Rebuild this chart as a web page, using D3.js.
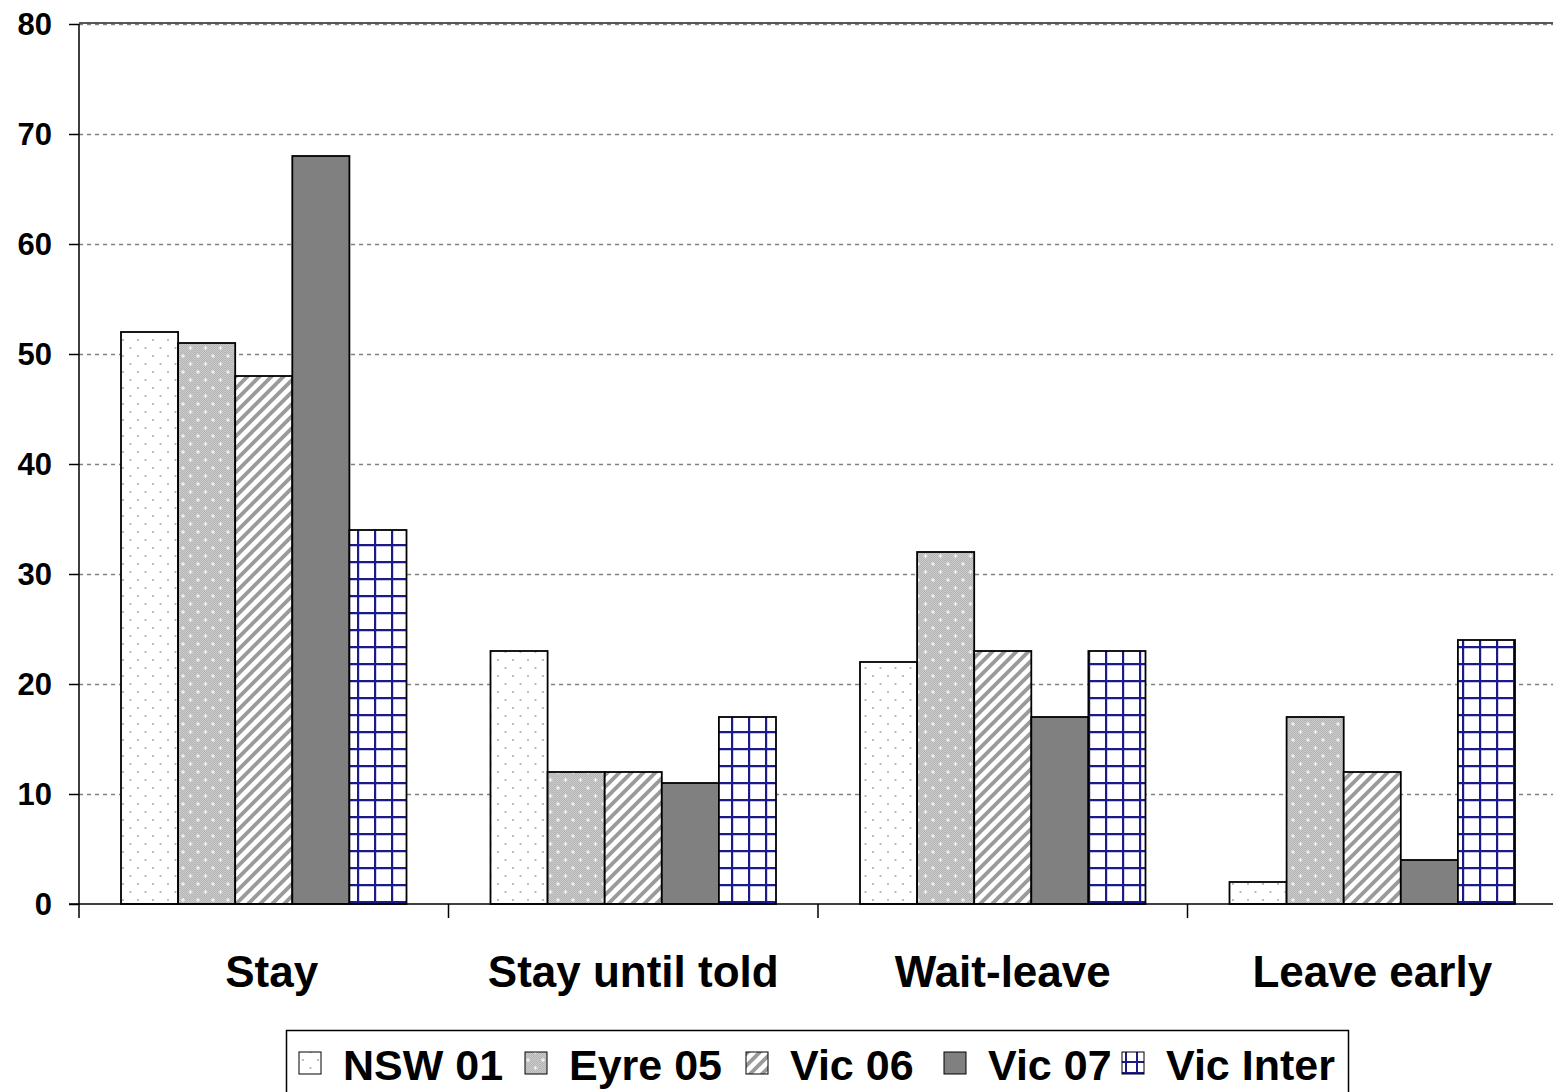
<!DOCTYPE html>
<html><head><meta charset="utf-8">
<script src="https://cdn.jsdelivr.net/npm/d3@7"></script>
<style>body{margin:0;background:#fff;}svg{display:block;}</style>
</head><body>
<script>
const categories = ["Stay", "Stay until told", "Wait-leave", "Leave early"];
const seriesNames = ["NSW 01", "Eyre 05", "Vic 06", "Vic 07", "Vic Inter"];
const nsw01 = [52, 23, 22, 2];
const eyre05 = [51, 12, 32, 17];
const vic06 = [48, 12, 23, 12];
const vic07 = [68, 11, 17, 4];
const vicInter = [34, 17, 23, 24];
const yTicks = [0, 10, 20, 30, 40, 50, 60, 70, 80];
const seriesValues = [nsw01, eyre05, vic06, vic07, vicInter];

const W = 1553, H = 1092;
const FONT = "Liberation Sans, Arial, sans-serif";
const svg = d3.select("body").append("svg").attr("width", W).attr("height", H);
const defs = svg.append("defs");

// Patterns
let p = defs.append("pattern").attr("id","p0").attr("patternUnits","userSpaceOnUse").attr("width",15).attr("height",16);
p.append("rect").attr("width",15).attr("height",16).attr("fill","#fff");
p.append("circle").attr("cx",3).attr("cy",4).attr("r",1.1).attr("fill","#b0b0b0");
p.append("circle").attr("cx",10.5).attr("cy",12).attr("r",1.1).attr("fill","#b0b0b0");

p = defs.append("pattern").attr("id","p1").attr("patternUnits","userSpaceOnUse").attr("width",15).attr("height",16);
p.append("rect").attr("width",15).attr("height",16).attr("fill","#cbcbcb");
for (let i=0;i<15;i++) for (let j=0;j<16;j++) if ((i+j)%2===0) p.append("rect").attr("x",i).attr("y",j).attr("width",1).attr("height",1).attr("fill","#b4b4b4");
[[3,4],[10.5,12]].forEach(([cx,cy])=>{
  p.append("rect").attr("x",cx-2).attr("y",cy-0.6).attr("width",4).attr("height",1.2).attr("fill","#f4f4f4");
  p.append("rect").attr("x",cx-0.6).attr("y",cy-2).attr("width",1.2).attr("height",4).attr("fill","#f4f4f4");
});

p = defs.append("pattern").attr("id","p2").attr("patternUnits","userSpaceOnUse").attr("width",12).attr("height",12);
p.append("rect").attr("width",12).attr("height",12).attr("fill","#fff");
p.append("path").attr("d","M-3,3 L3,-3 M0,12 L12,0 M9,15 L15,9").attr("stroke","#9a9a9a").attr("stroke-width",3.8);

defs.append("pattern").attr("id","p3").attr("patternUnits","userSpaceOnUse").attr("width",4).attr("height",4)
  .append("rect").attr("width",4).attr("height",4).attr("fill","#808080");

p = defs.append("pattern").attr("id","p4").attr("patternUnits","userSpaceOnUse").attr("width",17).attr("height",17);
p.append("rect").attr("width",17).attr("height",17).attr("fill","#fff");
p.append("path").attr("d","M1,0 V17 M0,1 H17").attr("stroke","#1a1a8a").attr("stroke-width",2.4);

// legend swatch patterns (scaled up like the original)
p = defs.append("pattern").attr("id","l4").attr("patternUnits","userSpaceOnUse").attr("x",0).attr("y",0).attr("width",11).attr("height",11);
p.append("rect").attr("width",11).attr("height",11).attr("fill","#fff");
p.append("path").attr("d","M4,0 V11 M0,6 H11").attr("stroke","#1a1a8a").attr("stroke-width",2);

const fills = ["url(#p0)","url(#p1)","url(#p2)","url(#p3)","url(#p4)"];
const legFills = ["url(#p0)","url(#p1)","url(#p2)","url(#p3)","url(#l4)"];

const x0 = 79, plotW = 4*369.5;
const x = d3.scaleBand().domain(categories).range([x0, x0+plotW]).paddingInner(0).paddingOuter(0);
const xs = d3.scaleBand().domain(seriesNames).range([42, 369.5-42]).padding(0);
const y = d3.scaleLinear().domain([0,80]).range([904,24]);

// gridlines
svg.append("g").selectAll("line").data(yTicks.filter(d=>d>0)).join("line")
  .attr("x1",x0).attr("x2",W).attr("y1",d=>y(d)+0.5).attr("y2",d=>y(d)+0.5)
  .attr("stroke","#808080").attr("stroke-width",1.3).attr("stroke-dasharray","4,4");
svg.append("line").attr("x1",x0).attr("x2",W).attr("y1",y(80)-1).attr("y2",y(80)-1).attr("stroke","#222").attr("stroke-width",1.5);

// bars
const g = svg.append("g");
categories.forEach((c,ci)=>{
  seriesNames.forEach((s,si)=>{
    const v = seriesValues[si][ci];
    g.append("rect").attr("x",x(c)+xs(s)).attr("y",y(v)).attr("width",xs.bandwidth()).attr("height",y(0)-y(v))
      .attr("fill",fills[si]).attr("stroke","#000").attr("stroke-width",1.8);
  });
});

// y axis
const yAxis = d3.axisLeft(y).tickValues(yTicks).tickSize(10).tickPadding(17).tickFormat(d3.format("d"));
const ya = svg.append("g").attr("transform",`translate(${x0},0)`).call(yAxis);
ya.select(".domain").attr("stroke","#000").attr("stroke-width",1.5).attr("d",`M0,${y(80)}V${y(0)}`);
ya.selectAll(".tick line").attr("stroke","#000").attr("stroke-width",1.5);
ya.selectAll(".tick text").attr("font-family",FONT).attr("font-weight","bold").attr("font-size",31).attr("fill","#000").attr("dy","0.35em");

// x axis
const xa = svg.append("g").attr("transform",`translate(0,${y(0)})`);
xa.append("line").attr("x1",x0-10).attr("x2",W).attr("y1",0).attr("y2",0).attr("stroke","#000").attr("stroke-width",1.5);
const bounds = categories.map(c=>x(c)).concat([x0+plotW]);
xa.selectAll(".xt").data(bounds).join("line").attr("x1",d=>d).attr("x2",d=>d).attr("y1",0).attr("y2",14).attr("stroke","#000").attr("stroke-width",1.5);
xa.selectAll(".xl").data(categories).join("text").attr("x",(d,i)=>x(d)+x.bandwidth()/2+(i===0?8:0)).attr("y",83)
  .attr("text-anchor","middle").attr("font-family",FONT).attr("font-weight","bold").attr("font-size",44).text(d=>d);

// legend
const lg = svg.append("g");
lg.append("rect").attr("x",286.5).attr("y",1030.5).attr("width",1062).attr("height",70).attr("fill","#fff").attr("stroke","#000").attr("stroke-width",1.5);
const legX = [299, 525, 746, 944, 1122];
seriesNames.forEach((s,i)=>{
  lg.append("rect").attr("x",legX[i]).attr("y",1052).attr("width",22).attr("height",22).attr("fill",legFills[i]).attr("stroke","#000").attr("stroke-width",1);
  lg.append("text").attr("x",legX[i]+44).attr("y",1080).attr("font-family",FONT).attr("font-weight","bold").attr("font-size",43).text(s);
});
</script>
</body></html>
